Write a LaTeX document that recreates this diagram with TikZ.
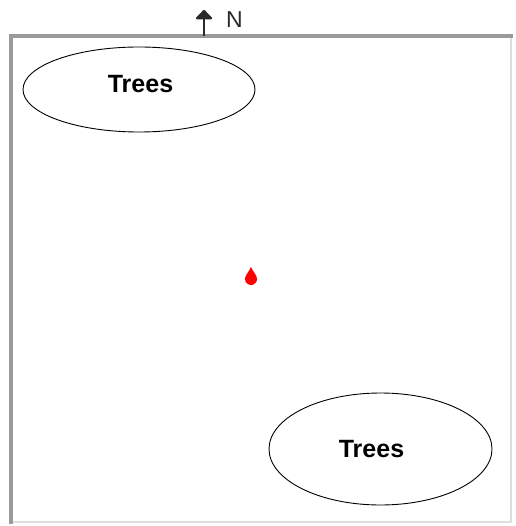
\documentclass[tikz,border=0pt]{standalone}
\usepackage{fontspec}
\setmainfont{Liberation Sans}
\usepackage{xcolor}
\usetikzlibrary{arrows.meta, positioning, shapes}
\definecolor{frameedge}{HTML}{9a9a9a}
\definecolor{framelight}{HTML}{dedede}
\definecolor{compassgray}{HTML}{2a2a2a}
\definecolor{markred}{HTML}{ff0000}

\tikzset{
    treezone/.style={ellipse, draw=black, line width=0.9pt, fill=white, inner sep=0pt},
    treetext/.style={font=\fontsize{25}{25}\selectfont\bfseries, text=black, inner sep=0pt}
}

\begin{document}
\begin{tikzpicture}[x=1pt, y=-1pt]
    \useasboundingbox[fill=white] (0,0) rectangle (515,526);
    % frame of the map
    \draw[framelight, line width=2pt] (511,35) -- (511,522) -- (11,522);
    \draw[frameedge, line width=4pt] (11,524) -- (11,36) -- (513,36);
    % the two tree areas
    \node[treezone, minimum width=232pt, minimum height=85pt] (zonenw) at (139,89.5) {};
    \node[treetext] (labelnw) at ([xshift=1.5pt, yshift=5pt]zonenw.center) {Trees};
    \node[treezone, minimum width=223pt, minimum height=112pt] (zonese) at (380.5,449) {};
    \node[treetext] (labelse) at ([xshift=-9pt]zonese.center) {Trees};
    % north marker
    \coordinate (nbase) at (204,36);
    \coordinate (ntip) at (204,10);
    \node[text=compassgray, font=\fontsize{23}{23}\selectfont, inner sep=0pt] (ntext) at (234.5,19.5) {N};
    \draw[compassgray, line width=2.6pt, -{Triangle[width=19pt 0, length=10pt 0, round]}] (nbase) -- (ntip);
    % position marker
    \fill[markred] (251,267) .. controls (253,272) and (257,275) .. (257,279)
        arc[start angle=0, end angle=-180, radius=6pt]
        .. controls (245,275) and (249,272) .. (251,267);
\end{tikzpicture}
\end{document}
